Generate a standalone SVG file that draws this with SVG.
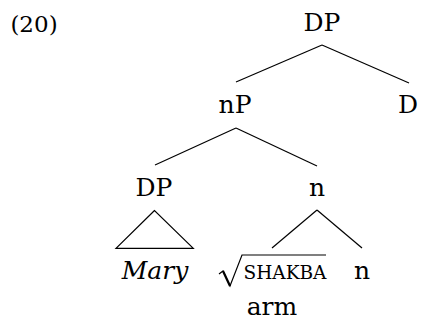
<svg xmlns="http://www.w3.org/2000/svg" width="421" height="320" viewBox="0 0 421 320">
<style>
text{font-family:"DejaVu Serif","Liberation Serif",serif;font-size:25px;fill:#000;text-anchor:middle}
.i{font-style:italic}
.sc{font-size:18.5px}
.num{font-size:23px}
.e{stroke:#000;stroke-width:1.2;fill:none}
</style>
<rect width="421" height="320" fill="#fff"/>
<text class="num" x="34" y="32">(20)</text>
<g id="connectors">
<line class="e" x1="322" y1="45" x2="236" y2="82"/>
<line class="e" x1="322" y1="45" x2="409" y2="83"/>
<line class="e" x1="236" y1="128" x2="155" y2="165"/>
<line class="e" x1="236" y1="128" x2="317" y2="166"/>
<line class="e" x1="317" y1="210" x2="272" y2="248"/>
<line class="e" x1="317" y1="210" x2="362" y2="248"/>
</g>
<g id="n-DP-top"><text x="322" y="31">DP</text></g>
<g id="n-nP"><text x="235" y="113">nP</text></g>
<g id="n-D"><text x="408" y="113">D</text></g>
<g id="n-DP"><text x="154" y="196">DP</text>
<polygon class="e" points="154.5,210.5 116,248.3 193.3,248.3"/></g>
<g id="n-n"><text x="317" y="196">n</text></g>
<g id="n-Mary"><text class="i" x="155" y="279">Mary</text></g>
<g id="n-root">
<path class="e" d="M219,274 L223,271 L230,286 L242,255 L326,255" stroke-linejoin="miter"/>
<path d="M223,271 L230,286" stroke="#000" stroke-width="2.2" fill="none"/>
<text class="sc" x="285" y="279">SHAKBA</text>
<text x="272" y="315">arm</text>
</g>
<g id="n-n2"><text x="362" y="279">n</text></g>
</svg>
